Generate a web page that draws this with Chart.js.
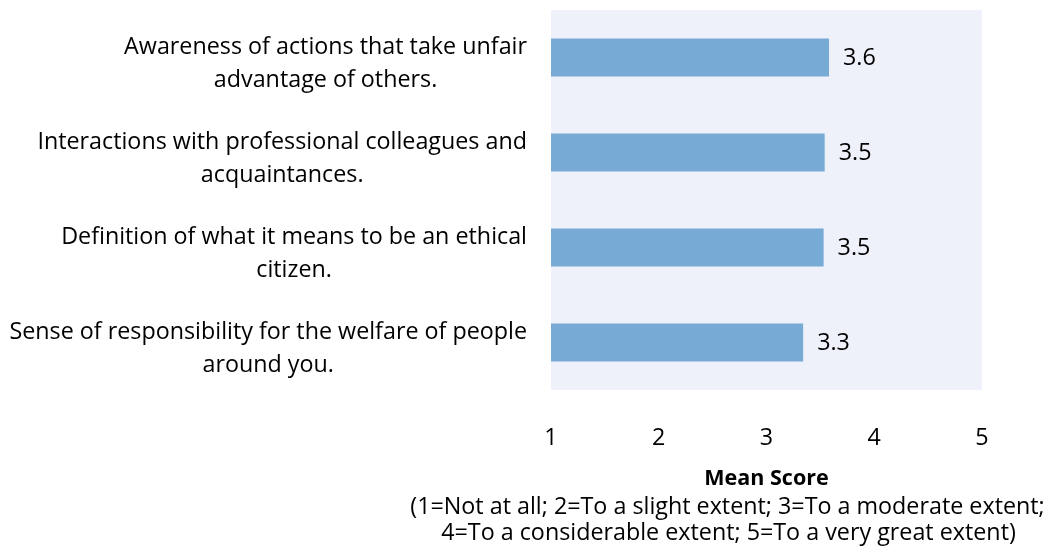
<!DOCTYPE html>
<html>
<head>
<meta charset="utf-8">
<script src="https://cdn.jsdelivr.net/npm/chart.js@4/dist/chart.umd.min.js"></script>
<style>
  html, body { margin: 0; padding: 0; background: #fff; }
  #wrap { width: 1047px; height: 550px; }
</style>
</head>
<body>
<div id="wrap"><canvas id="myChart" width="1047" height="550"></canvas></div>
<script>
// chart data
var categories = [
  ["Awareness of actions that take unfair", "advantage of others."],
  ["Interactions with professional colleagues and", "acquaintances."],
  ["Definition of what it means to be an ethical", "citizen."],
  ["Sense of responsibility for the welfare of people", "around you."]
];
var meanScores = [3.58, 3.54, 3.53, 3.34];
var xTicks = [1, 2, 3, 4, 5];
var axisTitle = "Mean Score";
var axisNote = [
  "(1=Not at all; 2=To a slight extent; 3=To a moderate extent;",
  "4=To a considerable extent; 5=To a very great extent)"
];

var FONT = "'Open Sans'";
var SIZE = 23.3;

// plot background + category labels + value labels + axis notes
var extras = {
  id: "extras",
  beforeDraw: function (chart) {
    var a = chart.chartArea, ctx = chart.ctx;
    ctx.save();
    ctx.fillStyle = "#eef1f9";
    ctx.fillRect(a.left, a.top, a.right - a.left, a.bottom - a.top);
    ctx.restore();
  },
  afterDraw: function (chart) {
    var ctx = chart.ctx, a = chart.chartArea;
    var y = chart.scales.y;
    ctx.save();
    ctx.fillStyle = "#000";
    ctx.textBaseline = "middle";

    // category labels, lines centred on each other, block right aligned
    ctx.font = SIZE + "px " + FONT;
    var lineH = 33;
    categories.forEach(function (lines, i) {
      var py = y.getPixelForTick(i) + 6;
      var widest = 0;
      lines.forEach(function (l) { widest = Math.max(widest, ctx.measureText(l).width); });
      var cx = a.left - 24 - widest / 2;
      ctx.textAlign = "center";
      lines.forEach(function (l, j) {
        ctx.fillText(l, cx, py + (j - (lines.length - 1) / 2) * lineH);
      });
    });

    // value labels
    ctx.textAlign = "left";
    var meta = chart.getDatasetMeta(0);
    meta.data.forEach(function (bar, i) {
      ctx.fillText(meanScores[i].toFixed(1), bar.x + 14, bar.y + 1);
    });

    // axis title and note (note is pushed left to fit, as in the original)
    var cx = (a.left + a.right) / 2;
    ctx.textAlign = "center";
    ctx.font = "bold 21.5px " + FONT;
    ctx.fillText(axisTitle, cx, 479);
    ctx.font = SIZE + "px " + FONT;
    ctx.fillText(axisNote[0], cx - 39, 507);
    ctx.fillText(axisNote[1], cx - 38, 533);
    ctx.restore();
  }
};

var myChart = document.getElementById("myChart").getContext("2d");
var chart = new Chart(myChart, {
  type: "bar",
  data: {
    labels: categories,
    datasets: [
      {
        label: "Mean Score",
        data: meanScores,
        backgroundColor: "#78aad6",
        borderWidth: 0,
        barPercentage: 0.4,
        categoryPercentage: 1.0
      }
    ]
  },
  options: {
    indexAxis: "y",
    responsive: false,
    animation: false,
    layout: { padding: { top: 10, right: 65, bottom: 0, left: 0 } },
    plugins: {
      legend: { display: false },
      tooltip: { enabled: false }
    },
    scales: {
      x: {
        min: 1,
        max: 5,
        border: { display: false },
        grid: { display: false, drawTicks: false },
        ticks: {
          stepSize: 1,
          padding: 34,
          color: "#000",
          font: { family: "Open Sans", size: SIZE },
          callback: function (v) { return xTicks.indexOf(v) >= 0 ? String(v) : ""; }
        },
        afterFit: function (s) { s.height = 160; }
      },
      y: {
        border: { display: false },
        grid: { display: false, drawTicks: false },
        ticks: { display: false },
        afterFit: function (s) { s.width = 551; }
      }
    }
  },
  plugins: [extras]
});
</script>
</body>
</html>
